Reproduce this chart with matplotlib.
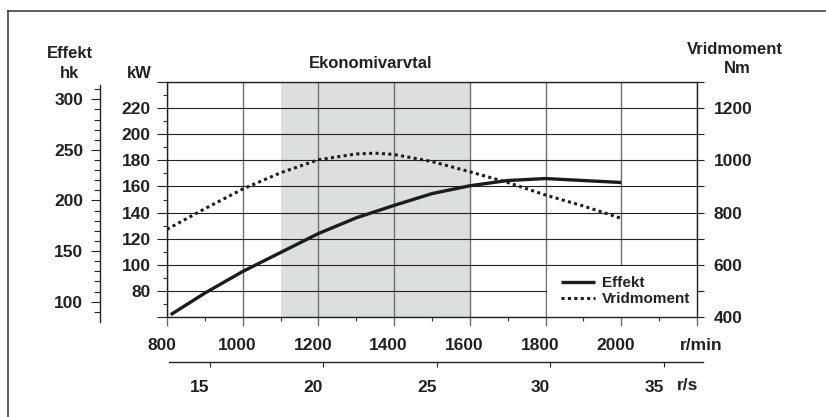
import matplotlib
matplotlib.use("Agg")
import matplotlib.pyplot as plt
import matplotlib.transforms as mtransforms
from matplotlib.lines import Line2D
from matplotlib.patches import Rectangle
from matplotlib.ticker import FixedLocator, FuncFormatter, NullFormatter

# Effekt (kW) mot varvtal
effekt_rpm = [810, 900, 1000, 1100, 1200, 1300, 1400, 1500, 1600, 1700, 1800, 1900, 2000]
effekt_kw = [62, 78.5, 95, 109.5, 124, 136, 145.5, 154.5, 160.5, 164.5, 166, 164.5, 163]

# Vridmoment (Nm) mot varvtal
vrid_rpm = [800, 900, 1000, 1100, 1200, 1300, 1350, 1400, 1500, 1600, 1700, 1800, 1900, 2000]
vrid_nm = [736, 815, 890, 952, 1002, 1024, 1027, 1022, 995, 956, 915, 867, 825, 778]

eko_range = (1100, 1600)

kw_labels = [80, 100, 120, 140, 160, 180, 200, 220]
nm_labels = [400, 600, 800, 1000, 1200]
hk_labels = [100, 150, 200, 250, 300]
rpm_labels = [800, 1000, 1200, 1400, 1600, 1800, 2000]
rs_labels = [15, 20, 25, 30, 35]

W, H = 826, 417
TXT = "#222222"
plt.rcParams['font.family'] = ['Liberation Sans', 'DejaVu Sans']
plt.rcParams['font.weight'] = 'bold'
plt.rcParams['font.size'] = 12

fig = plt.figure(figsize=(W / 100, H / 100), dpi=100)


def fx(px):
    return px / W


def fy(py):
    return (H - py) / H


# huvudaxel (kW)
ax = fig.add_axes([fx(167), fy(317.3), fx(530), (317.3 - 81.7) / H])
ax.set_xlim(800, 2200)
ax.set_ylim(60, 240)
ax.set_axisbelow(True)
ax.axvspan(*eko_range, color="#dcdfe0", lw=0, zorder=0.2)

ax.set_xticks(list(range(800, 2201, 200)))
ax.xaxis.set_minor_locator(FixedLocator(list(range(900, 2200, 200))))
ax.xaxis.set_major_formatter(NullFormatter())
ax.set_yticks(list(range(60, 241, 20)))
ax.yaxis.set_minor_locator(FixedLocator(list(range(70, 240, 20))))
ax.yaxis.set_major_formatter(FuncFormatter(lambda v, p: f"{int(v)}" if int(v) in kw_labels else ""))

ax.tick_params(axis="x", which="major", length=6.5, width=1.0, color="#707070")
ax.tick_params(axis="x", which="minor", length=3, width=0.8, color="#333333")
ax.tick_params(axis="y", which="major", length=7.2, width=0.8, color="#222222", pad=4.5, labelcolor=TXT, labelsize=12.5)
ax.tick_params(axis="y", which="minor", length=2.9, width=0.8, color="#333333")
ax.xaxis.grid(True, color="#707070", lw=1.0)
ax.yaxis.grid(True, color="#222222", lw=0.8)
for s in ["left", "top", "bottom"]:
    ax.spines[s].set_color("#222222")
    ax.spines[s].set_linewidth(1.0)
ax.spines["right"].set_visible(False)

# varvtalsetiketter, lite förskjutna åt vänster som i förlagan
shift = mtransforms.ScaledTranslation(-5.5 / 100, -27.7 / 100, fig.dpi_scale_trans)
tr = mtransforms.blended_transform_factory(ax.transData, ax.transAxes) + shift
for v in rpm_labels:
    ax.text(v, 0, str(v), transform=tr, ha="center", va="center", color=TXT, fontsize=12.5)

# vit ruta bakom legenden
ax.add_patch(Rectangle((1805, 60), 400, 39.2, facecolor="white", edgecolor="none", zorder=0.8))

l1, = ax.plot(effekt_rpm, effekt_kw, color="#1c1c1c", lw=2.4, solid_capstyle="butt", zorder=3)

# höger axel (Nm)
ax2 = ax.twinx()
ax2.set_ylim(400, 1300)
ax2.set_yticks(nm_labels)
ax2.yaxis.set_minor_locator(FixedLocator(list(range(500, 1301, 200))))
ax2.tick_params(axis="y", which="both", length=5, width=0.8, color="#222222")
ax2.tick_params(axis="y", which="major", pad=6.8, labelcolor=TXT, labelsize=12.5)
for s in ["left", "top", "bottom"]:
    ax2.spines[s].set_visible(False)
ax2.spines["right"].set_color("#222222")
ax2.spines["right"].set_linewidth(1.0)
l2, = ax2.plot(vrid_rpm, vrid_nm, color="#1c1c1c", lw=2.2, linestyle=(0, (1, 1.1)), zorder=3)

leg = ax2.legend([l1, l2], ["Effekt", "Vridmoment"], frameon=False, fontsize=11,
                 loc="upper left", bbox_to_anchor=(fx(561), fy(276)), bbox_transform=fig.transFigure,
                 borderpad=0, borderaxespad=0, handlelength=2.25, handletextpad=0.45, labelspacing=0.15)
for t in leg.get_texts():
    t.set_color(TXT)

# hk-axel
axh = fig.add_axes([fx(100), fy(321.7), 0.0001, (321.7 - 85) / H])
axh.set_ylim(80.2, 314.1)
axh.patch.set_visible(False)
for s in ["right", "top", "bottom"]:
    axh.spines[s].set_visible(False)
axh.spines["left"].set_color("#222222")
axh.spines["left"].set_linewidth(1.0)
axh.set_xticks([])
axh.set_yticks(hk_labels)
axh.yaxis.set_minor_locator(FixedLocator([v for v in range(90, 311, 10) if v not in hk_labels]))
axh.tick_params(axis="y", which="major", length=6.5, width=0.8, color="#222222", pad=5.5, labelcolor=TXT, labelsize=12.5)
axh.tick_params(axis="y", which="minor", length=4.1, width=0.8, color="#222222")

# r/s-axel
axs = fig.add_axes([fx(169), fy(362.3), fx(702.7 - 169), 0.0001])
axs.set_xlim(13.21, 36.72)
axs.patch.set_visible(False)
for s in ["left", "right", "top"]:
    axs.spines[s].set_visible(False)
axs.spines["bottom"].set_color("#222222")
axs.spines["bottom"].set_linewidth(1.0)
axs.set_yticks([])
axs.set_xticks(rs_labels)
axs.tick_params(axis="x", length=3.6, width=0.8, color="#222222", pad=9.4, labelcolor=TXT, labelsize=12.5)
for lab in axs.get_xticklabels():
    lab.set_horizontalalignment("right")

# rubriker
fig.text(fx(69.7), fy(53.3), "Effekt", ha="center", va="center", color=TXT)
fig.text(fx(69.7), fy(74), "hk", ha="center", va="center", color=TXT)
fig.text(fx(139), fy(74), "kW", ha="center", va="center", color=TXT)
fig.text(fx(371), fy(63), "Ekonomivarvtal", ha="center", va="center", color=TXT)
fig.text(fx(734.5), fy(49.3), "Vridmoment", ha="center", va="center", color=TXT)
fig.text(fx(737), fy(68.3), "Nm", ha="center", va="center", color=TXT)
fig.text(fx(680), fy(345), "r/min", ha="left", va="center", color=TXT, fontsize=12.5)
fig.text(fx(677), fy(385), "r/s", ha="left", va="center", color=TXT, fontsize=12.5)

# yttre ram (vänster och överkant)
fig.add_artist(Line2D([fx(8.3), fx(8.3)], [fy(10.7), 0], color="#333333", lw=1.1))
fig.add_artist(Line2D([fx(8.3), 1], [fy(10.7), fy(10.7)], color="#333333", lw=1.1))

fig.savefig("out.png", dpi=100)
